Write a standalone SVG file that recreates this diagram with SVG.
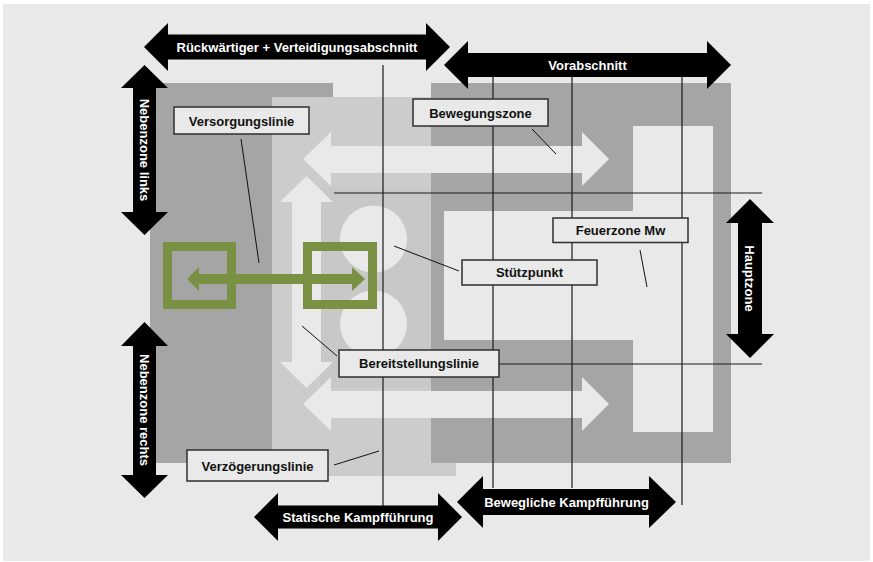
<svg xmlns="http://www.w3.org/2000/svg" width="873" height="562" viewBox="0 0 873 562">
  <style>
    .bg { fill: #e8e9e8; }
    .dark { fill: #a4a5a4; }
    .mid { fill: #cbcccb; }
    .light { fill: #e8e9e8; }
    .guide { stroke: #1a1a1a; stroke-width: 1.2; fill: none; }
    .pointer { stroke: #111; stroke-width: 1; fill: none; }
    .box { fill: #e8e9e8; stroke: #2e2e2e; stroke-width: 1.5; }
    .label { font-family: "Liberation Sans", Arial, sans-serif; font-weight: bold; font-size: 13px; fill: #111; text-anchor: middle; }
    .arrow { fill: #000; }
    .arrow-text { font-family: "Liberation Sans", Arial, sans-serif; font-weight: bold; font-size: 13px; fill: #fff; text-anchor: middle; }
    .green { fill: none; stroke: #7a9143; stroke-width: 9; }
    .green-fill { fill: #7a9143; }
  </style>

  <!-- page -->
  <rect x="0" y="0" width="873" height="562" fill="#ffffff"/>
  <rect class="bg" x="3" y="4" width="867" height="557"/>

  <!-- zones -->
  <g id="zones">
    <rect class="dark" x="150" y="83" width="183" height="380"/>
    <rect class="mid" x="272" y="97" width="184" height="379"/>
    <rect x="320" y="187" width="111" height="201" fill="#c7c8c7"/>
    <rect class="dark" x="431" y="83" width="300" height="380"/>
    <rect class="light" x="633" y="126" width="80" height="306"/>
    <rect class="light" x="444" y="211" width="190" height="129"/>
    <circle class="light" cx="373.5" cy="239" r="33.5"/>
    <circle class="light" cx="373.5" cy="324" r="33.5"/>
  </g>

  <!-- movement arrows (light) -->
  <g id="movement-arrows">
    <polygon class="light" points="303,159 331,132 331,146 582,146 582,132 609,159 582,186 582,173 331,173 331,186"/>
    <polygon class="light" points="303,404 331,377 331,391 582,391 582,377 609,404 582,431 582,418 331,418 331,431"/>
    <polygon class="light" points="306.5,176 333,202 321,202 321,362 333,362 306.5,388 280,362 292,362 292,202 280,202"/>
  </g>

  <!-- connectors: guide lines and label pointers -->
  <g id="connectors">
    <line class="guide" x1="383" y1="65" x2="383" y2="506"/>
    <line class="guide" x1="493" y1="77" x2="493" y2="488"/>
    <line class="guide" x1="572" y1="77" x2="572" y2="488"/>
    <line class="guide" x1="682" y1="77" x2="682" y2="505"/>
    <line class="guide" x1="334" y1="193" x2="762" y2="193"/>
    <line class="guide" x1="499" y1="364" x2="762" y2="364"/>

    <line class="pointer" x1="241" y1="139" x2="259" y2="263"/>
    <line class="pointer" x1="532" y1="129" x2="556" y2="154"/>
    <line class="pointer" x1="640" y1="250" x2="647" y2="287"/>
    <line class="pointer" x1="394" y1="246" x2="459" y2="271"/>
    <line class="pointer" x1="302" y1="326" x2="337" y2="356"/>
    <line class="pointer" x1="334" y1="465" x2="379" y2="451"/>
  </g>

  <!-- supply line: two positions joined by a double arrow -->
  <g id="versorgung-symbol">
    <rect class="green" x="167.5" y="246.5" width="64" height="58"/>
    <rect class="green" x="307.5" y="246.5" width="65" height="58"/>
    <polygon class="green-fill" points="187,279 199,267 199,274 352,274 352,267 365,279 352,291 352,284 199,284 199,291"/>
  </g>

  <!-- labels -->
  <g id="versorgungslinie">
    <rect class="box" x="174" y="107" width="135" height="27"/>
    <text class="label" x="241.5" y="125.5">Versorgungslinie</text>
  </g>
  <g id="bewegungszone">
    <rect class="box" x="413" y="99" width="135" height="27"/>
    <text class="label" x="480.5" y="117.5">Bewegungszone</text>
  </g>
  <g id="feuerzone">
    <rect class="box" x="553" y="218" width="135" height="24.5"/>
    <text class="label" x="620.5" y="234.7">Feuerzone Mw</text>
  </g>
  <g id="stuetzpunkt">
    <rect class="box" x="462" y="260" width="135" height="25"/>
    <text class="label" x="529.5" y="277">Stützpunkt</text>
  </g>
  <g id="bereitstellungslinie">
    <rect class="box" x="339" y="350" width="160" height="27"/>
    <text class="label" x="419" y="368">Bereitstellungslinie</text>
  </g>
  <g id="verzoegerungslinie">
    <rect class="box" x="187" y="450" width="141" height="31"/>
    <text class="label" x="257.5" y="470.5">Verzögerungslinie</text>
  </g>

  <!-- sector arrows -->
  <g id="rueckwaertiger-abschnitt">
    <polygon class="arrow" points="144,47 168,23 168,34.5 426,34.5 426,23 450,47 426,71 426,59.5 168,59.5 168,71"/>
    <text class="arrow-text" x="297" y="51.6">Rückwärtiger + Verteidigungsabschnitt</text>
  </g>
  <g id="vorabschnitt">
    <polygon class="arrow" points="444,65 468,41 468,53 707,53 707,41 731,65 707,89 707,77 468,77 468,89"/>
    <text class="arrow-text" x="587.5" y="69.6">Vorabschnitt</text>
  </g>
  <g id="nebenzone-links">
    <polygon class="arrow" points="144.5,65 168,88 156,88 156,212 168,212 144.5,235 121,212 133,212 133,88 121,88"/>
    <text class="arrow-text" transform="translate(144.5,150) rotate(90)" x="0" y="4.6">Nebenzone links</text>
  </g>
  <g id="nebenzone-rechts">
    <polygon class="arrow" points="144.5,322 168,346 156,346 156,475 168,475 144.5,498 121,475 133,475 133,346 121,346"/>
    <text class="arrow-text" transform="translate(144.5,410) rotate(90)" x="0" y="4.6">Nebenzone rechts</text>
  </g>
  <g id="hauptzone">
    <polygon class="arrow" points="750,199 774,223 762,223 762,334 774,334 750,358 726,334 738,334 738,223 726,223"/>
    <text class="arrow-text" transform="translate(750,278.5) rotate(90)" x="0" y="4.6">Hauptzone</text>
  </g>
  <g id="statische-kampffuehrung">
    <polygon class="arrow" points="254,517 278,493 278,505.5 438,505.5 438,493 462,517 438,541 438,528.5 278,528.5 278,541"/>
    <text class="arrow-text" x="358" y="521.6">Statische Kampfführung</text>
  </g>
  <g id="bewegliche-kampffuehrung">
    <polygon class="arrow" points="457,502 483,476 483,489 649,489 649,476 676,502 649,528 649,515 483,515 483,528"/>
    <text class="arrow-text" x="566.5" y="506.6">Bewegliche Kampfführung</text>
  </g>
</svg>
